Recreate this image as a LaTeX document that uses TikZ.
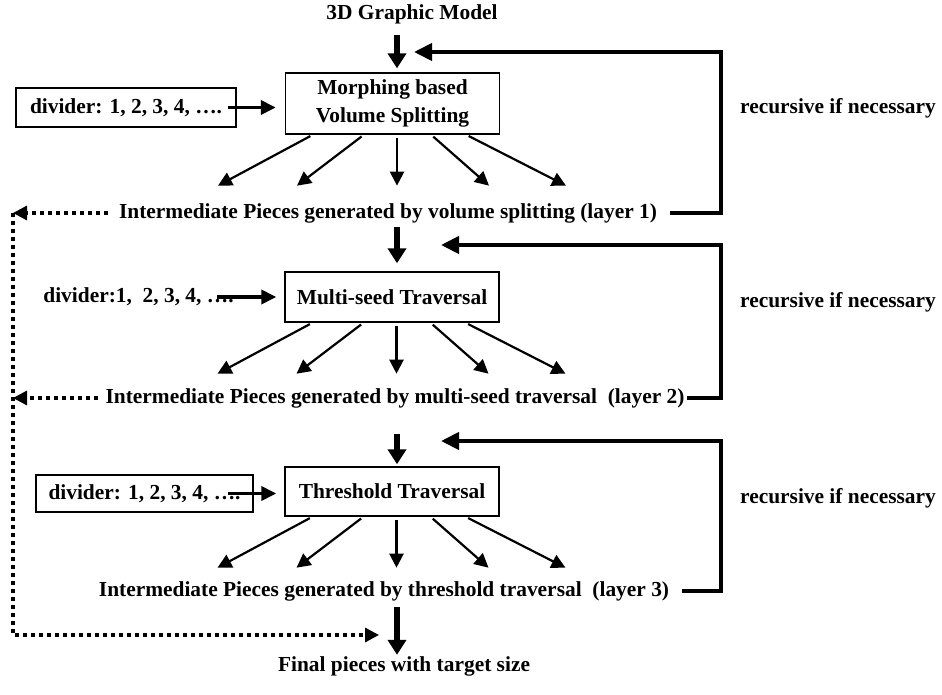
\documentclass[tikz,border=0pt]{standalone}
\usepackage{fontspec}
\setmainfont{Liberation Serif}
\usetikzlibrary{arrows.meta,positioning}

\tikzset{
  txt/.style={inner sep=0pt},
  stagebox/.style={draw, line width=0.7pt, minimum width=107pt, align=center},
  bigarrow/.style={-{Triangle[length=7.5pt,width=9pt]}, line width=3.3pt},
  fan/.style={-{Triangle[length=7pt,width=7pt]}, line width=1.1pt, shorten <=1.5pt},
  sidearrow/.style={-{Triangle[length=7.5pt,width=7pt]}, line width=1.8pt},
  feed/.style={-{Triangle[length=9pt,width=8.5pt]}, line width=2pt},
  dots/.style={line width=1.6pt, dash pattern=on 2pt off 2pt},
  dotarrow/.style={dots, -{Triangle[length=7pt,width=7pt]}},
}

\begin{document}
\begin{tikzpicture}[x=0.5pt,y=-0.5pt,font=\fontsize{10.7}{14}\selectfont\bfseries]
\useasboundingbox (0,0) rectangle (942,695);

% main column
\node[txt] (model) at (412,14) {3D Graphic Model};
\node[stagebox, minimum height=29.5pt] (split)  at (392.5,103.5) {Morphing based\\Volume Splitting};
\node[txt] (lay1) at (388,213) {Intermediate Pieces generated by volume splitting (layer 1)};
\node[stagebox, minimum height=25pt]   (multi)  at (392,297)   {Multi-seed Traversal};
\node[txt] (lay2) at (395,398) {Intermediate Pieces generated by multi-seed traversal~~(layer 2)};
\node[stagebox, minimum height=24.5pt] (thresh) at (392,491.5) {Threshold Traversal};
\node[txt] (lay3) at (384,591) {Intermediate Pieces generated by threshold traversal~~(layer 3)};
\node[txt] (final) at (404,666) {Final pieces with target size};

% dividers
\node[draw, line width=0.7pt, minimum width=110pt, minimum height=19.5pt] (div1) at (126,107.5) {divider: 1, 2, 3, 4, ….};
\node[txt] (div2) at (138.5,297) {divider:1,~~2, 3, 4, ….};
\node[draw, line width=0.7pt, minimum width=108.5pt, minimum height=18.5pt] (div3) at (144.5,493.5) {divider: 1, 2, 3, 4, ….};

% side notes
\node[txt] (rec1) at (838,108) {recursive if necessary};
\node[txt] (rec2) at (838,302) {recursive if necessary};
\node[txt] (rec3) at (838,498) {recursive if necessary};

\coordinate (col) at (397,0);
\coordinate (fbx) at (721,0);
\coordinate (dx)  at (13,0);
\coordinate (ret1) at (414,52);
\coordinate (ret2) at (441,245);
\coordinate (ret3) at (441,441);
\coordinate (dend) at (379,635);

% downward flow
\draw[bigarrow, shorten <=5.5pt, shorten >=2pt] (model.south -| col) -- (split.north -| col);
\draw[bigarrow, shorten <=2pt, shorten >=4pt]   (lay1.south -| col)  -- (multi.north -| col);
\draw[bigarrow, shorten <=13pt, shorten >=1pt]  (lay2.south -| col)  -- (thresh.north -| col);
\draw[bigarrow, shorten <=3pt, shorten >=0.5pt] (lay3.south -| col)  -- (final.north -| col);

% pieces
\foreach \b in {split,multi,thresh}
  \foreach \s/\d in {-39.75/-95, -14.25/-67, 2.25/0, 19.25/58, 36.75/100}
    \draw[fan] ([xshift=\s pt]\b.south) -- ++(\d,51);

% dividers in
\draw[sidearrow, shorten >=4.5pt] ([xshift=-4.5pt]div1.east) -- (split.west |- div1.east);
\draw[sidearrow, shorten >=4pt]   ([xshift=-8.5pt]div2.east) -- (multi.west |- div2.east);
\draw[sidearrow, shorten >=4pt]   ([xshift=-13pt]div3.east)  -- (thresh.west |- div3.east);

% recursion
\draw[feed] ([xshift=6.5pt]lay1.east) -- (lay1.east -| fbx) |- (ret1);
\draw[feed] ([xshift=1pt]lay2.east)   -- (lay2.east -| fbx) |- (ret2);
\draw[feed] ([xshift=6.5pt]lay3.east) -- (lay3.east -| fbx) |- (ret3);

% shortcuts
\draw[dotarrow, shorten <=5.5pt] (lay1.west) -- (lay1.west -| dx);
\draw[dotarrow, shorten <=3.5pt] (lay2.west) -- (lay2.west -| dx);
\draw[dotarrow] (lay1.west -| dx) |- (dend);
\end{tikzpicture}
\end{document}
